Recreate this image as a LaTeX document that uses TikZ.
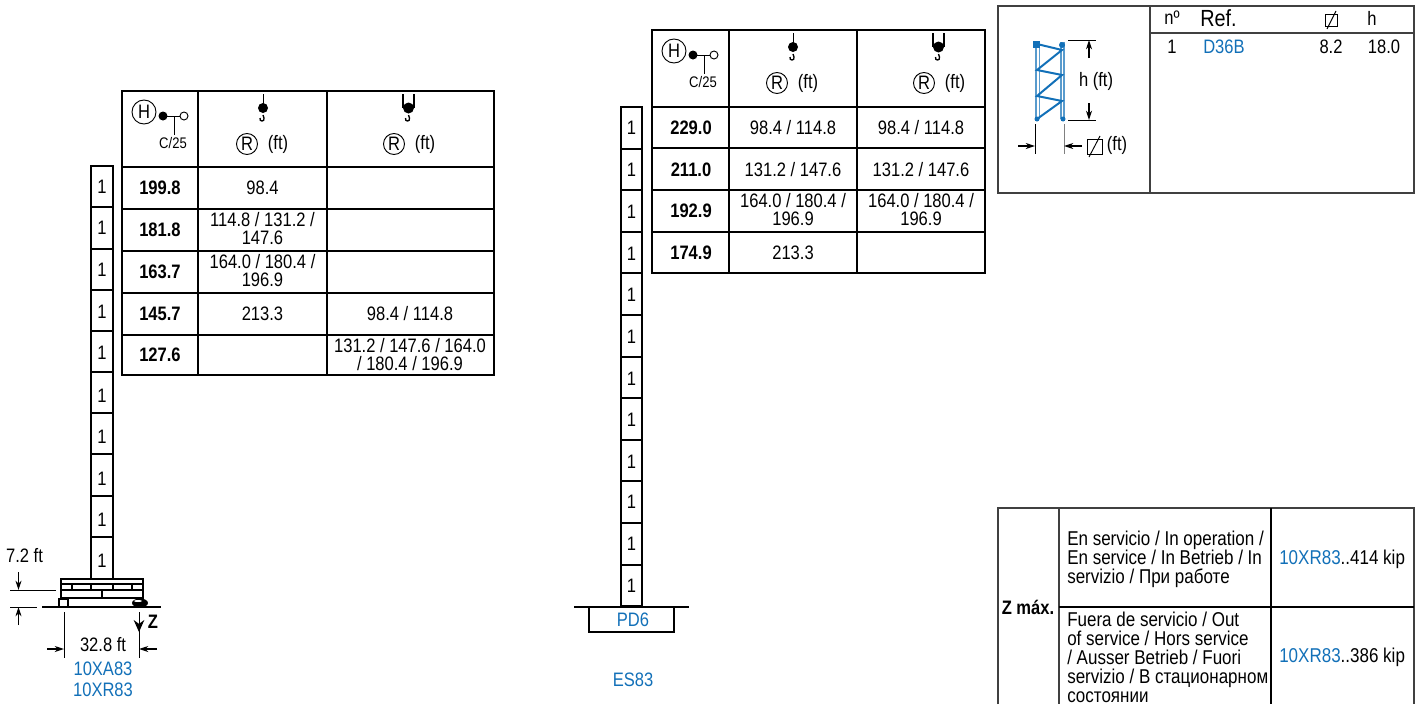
\documentclass[tikz,border=0pt]{standalone}
\usepackage{fontspec}
\setmainfont{Liberation Sans}[FakeStretch=0.85]
\usetikzlibrary{arrows.meta}
\definecolor{refblue}{HTML}{1270B8}
\definecolor{tablegray}{HTML}{404040}
\tikzset{
  txt/.style={inner sep=0pt, font=\fontsize{14.6}{13.5}\selectfont, align=center},
  boldtxt/.style={txt, font=\fontsize{14.6}{13.5}\selectfont\bfseries},
  bluetxt/.style={txt, text=refblue},
  smalltxt/.style={txt, font=\fontsize{11.5}{11}\selectfont},
  wraptxt/.style={inner sep=0pt, anchor=west, align=left, font=\fontsize{15}{14.2}\selectfont},
  widetxt/.style={txt, anchor=west, font=\fontsize{15}{14}\selectfont},
  heavy/.style={line width=1.3pt},
  rule/.style={line width=0.9pt},
  thin line/.style={line width=0.7pt},
  dim/.style={line width=0.8pt, -{Stealth[length=7pt,width=4.5pt]}},
  chord/.style={refblue!70, line width=1pt}
}
\begin{document}
\begin{tikzpicture}[x=0.75pt, y=-0.75pt]
\useasboundingbox (0, 0) rectangle (1424, 704);

% left mast
\draw[heavy] (91, 166) rectangle (113, 579);
\draw[rule] (91, 207) -- (113, 207);
\draw[rule] (91, 249) -- (113, 249);
\draw[rule] (91, 290) -- (113, 290);
\draw[rule] (91, 331) -- (113, 331);
\draw[rule] (91, 372) -- (113, 372);
\draw[rule] (91, 413) -- (113, 413);
\draw[rule] (91, 454) -- (113, 454);
\draw[rule] (91, 496) -- (113, 496);
\draw[rule] (91, 537) -- (113, 537);
\node[txt] (leftcellj) at (102, 187) {1};
\node[txt] (leftcelli) at (102, 228) {1};
\node[txt] (leftcellh) at (102, 270) {1};
\node[txt] (leftcellg) at (102, 312) {1};
\node[txt] (leftcellf) at (102, 353) {1};
\node[txt] (leftcelle) at (102, 396) {1};
\node[txt] (leftcelld) at (102, 437) {1};
\node[txt] (leftcellc) at (102, 479) {1};
\node[txt] (leftcellb) at (102, 520) {1};
\node[txt] (leftcella) at (102, 561) {1};

% base
\draw[heavy] (61, 579) rectangle (143, 584);
\draw[heavy] (61, 584) -- (61, 590) (72, 584) -- (72, 590) (91, 584) -- (91, 590);
\draw[heavy] (113, 584) -- (113, 590) (132, 584) -- (132, 590) (143, 584) -- (143, 590);
\draw[heavy] (61, 590) rectangle (143, 598);
\draw[heavy] (102, 590) -- (102, 598);
\draw[heavy] (59, 599) rectangle (68, 607);
\draw[heavy] (42, 607) -- (161, 607);
\fill (140, 603) ellipse (8 and 4.5);
\fill[white] (138, 601) ellipse (4 and 1);

\draw[thin line] (10, 590) -- (56, 590);
\draw[thin line] (10, 607) -- (37, 607);
\draw[dim] (18.5, 572) -- (18.5, 590);
\draw[dim] (18.5, 625) -- (18.5, 607);
\node[txt] (heightlabel) at (24.5, 556) {7.2 ft};

\draw[thin line] (64, 612) -- (64, 658);
\draw[thin line] (139, 612) -- (139, 658);
\draw[dim] (47, 649) -- (64, 649);
\draw[dim] (157, 649) -- (139, 649);
\draw[line width=0.7pt, -{Stealth[length=9pt,width=8pt]}] (139, 612) -- (139, 632);
\node[boldtxt] (zlabel) at (153, 622) {Z};
\node[txt] (widthlabel) at (103, 645) {32.8 ft};
\node[bluetxt] (xalabel) at (103, 669) {10XA83};
\node[bluetxt] (xrlabel) at (103, 690) {10XR83};

% left table
\draw[rule] (122, 91) rectangle (494, 375);
\draw[rule] (198, 91) -- (198, 375);
\draw[rule] (327, 91) -- (327, 375);
\draw[rule] (122, 167) -- (494, 167);
\draw[rule] (122, 209) -- (494, 209);
\draw[rule] (122, 251) -- (494, 251);
\draw[rule] (122, 293) -- (494, 293);
\draw[rule] (122, 335) -- (494, 335);

\draw[thin line] (144, 112) circle (12);
\node[txt] (leftH) at (144, 112) {H};
\fill (163, 116) circle (4.5);
\draw[thin line] (163, 116) -- (180, 116);
\draw[thin line] (184, 116) circle (4);
\draw[thin line] (174, 116) -- (174, 135);
\node[smalltxt] (leftC) at (173, 143) {C/25};

\draw[thin line] (263, 94) -- (263, 107);
\fill (263, 108) circle (5);
\draw[line width=1pt] (263, 115) -- (264, 118) .. controls (265, 122) and (259, 122) .. (260, 118);
\draw[thin line] (247, 144) circle (10.5);
\node[txt] (leftRa) at (247, 144) {R};
\node[txt] (leftfta) at (278, 144) {(ft)};

\draw[rule] (403, 94) -- (403, 108);
\draw[rule] (414, 94) -- (414, 108);
\fill (408.5, 108) circle (5.5);
\draw[line width=1pt] (408.5, 115) -- (409.5, 118) .. controls (410.5, 122) and (404.5, 122) .. (405.5, 118);
\draw[thin line] (394, 144) circle (10.5);
\node[txt] (leftRb) at (394, 144) {R};
\node[txt] (leftftb) at (425, 144) {(ft)};

\node[boldtxt] (lefta) at (160, 188) {199.8};
\node[boldtxt] (leftb) at (160, 230) {181.8};
\node[boldtxt] (leftc) at (160, 272) {163.7};
\node[boldtxt] (leftd) at (160, 314) {145.7};
\node[boldtxt] (lefte) at (160, 355) {127.6};
\node[txt] (leftaa) at (262.5, 188) {98.4};
\node[txt] (leftba) at (262.5, 229) {114.8 / 131.2 /\\147.6};
\node[txt] (leftca) at (262.5, 271) {164.0 / 180.4 /\\196.9};
\node[txt] (leftda) at (262.5, 314) {213.3};
\node[txt] (leftdb) at (410, 314) {98.4 / 114.8};
\node[txt] (lefteb) at (410, 355) {131.2 / 147.6 / 164.0\\/ 180.4 / 196.9};

% middle mast
\draw[heavy] (621, 107) rectangle (642, 606);
\draw[rule] (621, 149) -- (642, 149);
\draw[rule] (621, 190) -- (642, 190);
\draw[rule] (621, 232) -- (642, 232);
\draw[rule] (621, 273) -- (642, 273);
\draw[rule] (621, 315) -- (642, 315);
\draw[rule] (621, 357) -- (642, 357);
\draw[rule] (621, 398) -- (642, 398);
\draw[rule] (621, 440) -- (642, 440);
\draw[rule] (621, 481) -- (642, 481);
\draw[rule] (621, 523) -- (642, 523);
\draw[rule] (621, 565) -- (642, 565);
\node[txt] (midcelll) at (631.5, 128) {1};
\node[txt] (midcellk) at (631.5, 170) {1};
\node[txt] (midcellj) at (631.5, 212) {1};
\node[txt] (midcelli) at (631.5, 254) {1};
\node[txt] (midcellh) at (631.5, 295) {1};
\node[txt] (midcellg) at (631.5, 337) {1};
\node[txt] (midcellf) at (631.5, 379) {1};
\node[txt] (midcelle) at (631.5, 420) {1};
\node[txt] (midcelld) at (631.5, 462) {1};
\node[txt] (midcellc) at (631.5, 502) {1};
\node[txt] (midcellb) at (631.5, 544) {1};
\node[txt] (midcella) at (631.5, 586) {1};

\draw[heavy] (574, 607) -- (689, 607);
\draw[heavy] (589, 607) -- (589, 632) -- (674, 632) -- (674, 607);
\node[bluetxt] (pdlabel) at (633, 620) {PD6};
\node[bluetxt] (eslabel) at (633, 680) {ES83};

% middle table
\draw[rule] (652, 30) rectangle (985, 273);
\draw[rule] (729, 30) -- (729, 273);
\draw[rule] (857, 30) -- (857, 273);
\draw[rule] (652, 107) -- (985, 107);
\draw[rule] (652, 148) -- (985, 148);
\draw[rule] (652, 190) -- (985, 190);
\draw[rule] (652, 232) -- (985, 232);

\draw[thin line] (674, 51) circle (12);
\node[txt] (midH) at (674, 51) {H};
\fill (693, 55) circle (4.5);
\draw[thin line] (693, 55) -- (710, 55);
\draw[thin line] (714, 55) circle (4);
\draw[thin line] (704, 55) -- (704, 74);
\node[smalltxt] (midC) at (703, 82) {C/25};

\draw[thin line] (793, 33) -- (793, 46);
\fill (793, 47) circle (5);
\draw[line width=1pt] (793, 54) -- (794, 57) .. controls (795, 61) and (789, 61) .. (790, 57);
\draw[thin line] (777, 83) circle (10.5);
\node[txt] (midRa) at (777, 83) {R};
\node[txt] (midfta) at (808, 83) {(ft)};

\draw[rule] (933, 33) -- (933, 47);
\draw[rule] (944, 33) -- (944, 47);
\fill (938.5, 47) circle (5.5);
\draw[line width=1pt] (938.5, 54) -- (939.5, 57) .. controls (940.5, 61) and (934.5, 61) .. (935.5, 57);
\draw[thin line] (924, 83) circle (10.5);
\node[txt] (midRb) at (924, 83) {R};
\node[txt] (midftb) at (955, 83) {(ft)};

\node[boldtxt] (mida) at (691, 128) {229.0};
\node[boldtxt] (midb) at (691, 170) {211.0};
\node[boldtxt] (midc) at (691, 211) {192.9};
\node[boldtxt] (midd) at (691, 253) {174.9};
\node[txt] (midaa) at (793, 128) {98.4 / 114.8};
\node[txt] (midab) at (921, 128) {98.4 / 114.8};
\node[txt] (midba) at (793, 170) {131.2 / 147.6};
\node[txt] (midbb) at (921, 170) {131.2 / 147.6};
\node[txt] (midca) at (793, 210) {164.0 / 180.4 /\\196.9};
\node[txt] (midcb) at (921, 210) {164.0 / 180.4 /\\196.9};
\node[txt] (midda) at (793, 253) {213.3};

% tower table
\draw[rule, tablegray] (998, 6) rectangle (1414, 193);
\draw[rule, tablegray] (1150, 6) -- (1150, 193);
\draw[rule, tablegray] (1150, 33) -- (1414, 33);
\node[txt] (nolabel) at (1172, 18) {nº};
\node[txt, anchor=west, font=\fontsize{17.5}{14}\selectfont] (reflabel) at (1200, 18) {Ref.};
\node[txt] (hlabel) at (1372, 18) {h};
\draw[thin line] (1325, 14) rectangle (1337, 26);
\draw[thin line] (1327, 29) -- (1336, 11);
\node[txt] (noval) at (1172, 47) {1};
\node[bluetxt, anchor=west] (refval) at (1203, 47) {D36B};
\node[txt] (widthval) at (1331, 47) {8.2};
\node[txt] (hval) at (1384, 47) {18.0};

\draw[chord] (1036, 42) -- (1036, 119) (1039.5, 42) -- (1039.5, 119);
\draw[chord] (1061, 42) -- (1061, 119) (1064, 42) -- (1064, 119);
\draw[refblue, line width=1.5pt] (1037, 44) -- (1062, 50) -- (1037, 70) -- (1062, 75) -- (1037, 96) -- (1062, 101) -- (1037, 119);
\fill[refblue] (1033, 41) rectangle (1040, 48);
\fill[refblue] (1062, 45) circle (3);
\fill[refblue] (1037, 119) circle (2.5);
\fill[refblue] (1063, 119) circle (2.5);
\draw[thin line] (1068, 40) -- (1096, 40);
\draw[thin line] (1068, 120) -- (1096, 120);
\draw[dim] (1089, 58) -- (1089, 40);
\draw[dim] (1089, 103) -- (1089, 120);
\node[txt] (towerh) at (1096, 81) {h (ft)};

\draw[thin line] (1035, 124) -- (1035, 154);
\draw[thin line, gray] (1064, 124) -- (1064, 154);
\draw[dim] (1018, 146) -- (1035, 146);
\draw[dim] (1082, 146) -- (1064, 146);
\draw[thin line] (1087, 139) rectangle (1102, 154);
\draw[thin line] (1089, 157) -- (1100, 136);
\node[txt] (towerft) at (1117, 145) {(ft)};

% reaction table
\draw[rule, tablegray] (998, 704) -- (998, 508) -- (1414, 508) -- (1414, 704);
\draw[rule, tablegray] (1059, 508) -- (1059, 704);
\draw[rule] (1271, 508) -- (1271, 704);
\draw[rule] (1059, 607) -- (1414, 607);
\node[boldtxt] (zmax) at (1028, 607) {Z máx.};
\node[wraptxt] (inservice) at (1067, 559) {En servicio / In operation /\\En service / In Betrieb / In\\servizio / При работе};
\node[wraptxt] (outservice) at (1067, 657) {Fuera de servicio / Out\\of service / Hors service\\/ Ausser Betrieb / Fuori\\servizio / В стационарном\\состоянии};
\node[widetxt] (inval) at (1279, 559) {\textcolor{refblue}{10XR83}..414 kip};
\node[widetxt] (outval) at (1279, 657) {\textcolor{refblue}{10XR83}..386 kip};

\end{tikzpicture}
\end{document}
